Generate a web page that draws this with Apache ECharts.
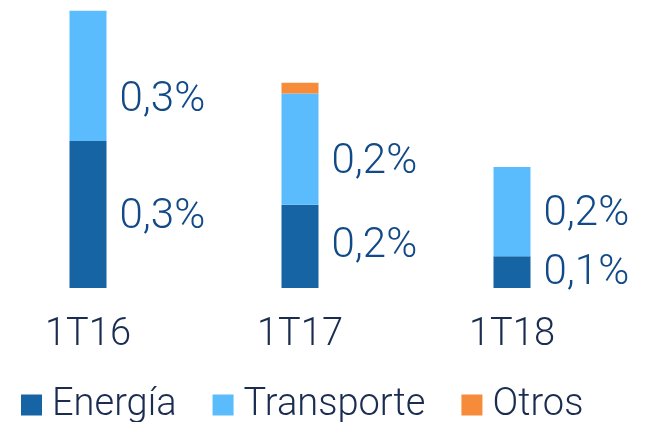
<!DOCTYPE html>
<html>
<head>
<meta charset="utf-8">
<script src="https://cdn.jsdelivr.net/npm/echarts@6/dist/echarts.min.js"></script>
<style>
  html, body { margin: 0; padding: 0; background: #fff; overflow: hidden; }
  /* el lienzo empieza 18px fuera por la izquierda para centrar la primera barra */
  #chart { width: 671px; height: 422px; margin-left: -18px; }
</style>
</head>
<body>
<div id="chart"></div>
<script>
// datos (%)
var categories = ['1T16', '1T17', '1T18'];
var energia = [0.30, 0.17, 0.065];
var transporte = [0.266, 0.227, 0.182];
var otros = [0, 0.022, 0];
var energiaLabels = ['0,3%', '0,2%', '0,1%'];
var transporteLabels = ['0,3%', '0,2%', '0,2%'];

// ajuste vertical de etiquetas (px)
var energiaOffsets = [3, 0, 1];
var transporteOffsets = [25, 13, 3];

var chart = echarts.init(document.getElementById('chart'));

var fontFamily = 'Roboto';
var valueColor = '#124a87';
var textColor = '#1a2d50';

function withLabels(values, texts, offsets) {
  return values.map(function (v, i) {
    return {
      value: v,
      label: { offset: [0, offsets[i]], formatter: texts[i] }
    };
  });
}

var labelStyle = {
  show: true,
  position: 'right',
  distance: 13,
  color: valueColor,
  fontSize: 42,
  fontFamily: fontFamily,
  fontWeight: 300
};

chart.setOption({
  animation: false,
  grid: {
    left: 0,
    right: 35,
    top: 0,
    bottom: 134
  },
  legend: {
    data: ['Energía', 'Transporte', 'Otros'],
    left: 34,
    top: 381,
    itemWidth: 21,
    itemHeight: 21,
    itemGap: 36,
    icon: 'rect',
    textStyle: {
      color: textColor,
      fontSize: 38,
      fontFamily: fontFamily,
      fontWeight: 300,
      padding: [0, 0, 0, 5]
    }
  },
  xAxis: {
    type: 'category',
    data: categories,
    axisLine: { show: false },
    axisTick: { show: false },
    axisLabel: {
      color: textColor,
      fontSize: 38,
      fontFamily: fontFamily,
      fontWeight: 300,
      margin: 28
    }
  },
  yAxis: {
    type: 'value',
    min: 0,
    max: 0.588,
    show: false
  },
  series: [
    {
      name: 'Energía',
      type: 'bar',
      stack: 'total',
      barWidth: 37,
      itemStyle: { color: '#1764a5' },
      label: labelStyle,
      data: withLabels(energia, energiaLabels, energiaOffsets)
    },
    {
      name: 'Transporte',
      type: 'bar',
      stack: 'total',
      barWidth: 37,
      itemStyle: { color: '#5bbcfd' },
      label: labelStyle,
      data: withLabels(transporte, transporteLabels, transporteOffsets)
    },
    {
      name: 'Otros',
      type: 'bar',
      stack: 'total',
      barWidth: 37,
      itemStyle: { color: '#f68b3a' },
      data: otros
    }
  ]
});
</script>
</body>
</html>
